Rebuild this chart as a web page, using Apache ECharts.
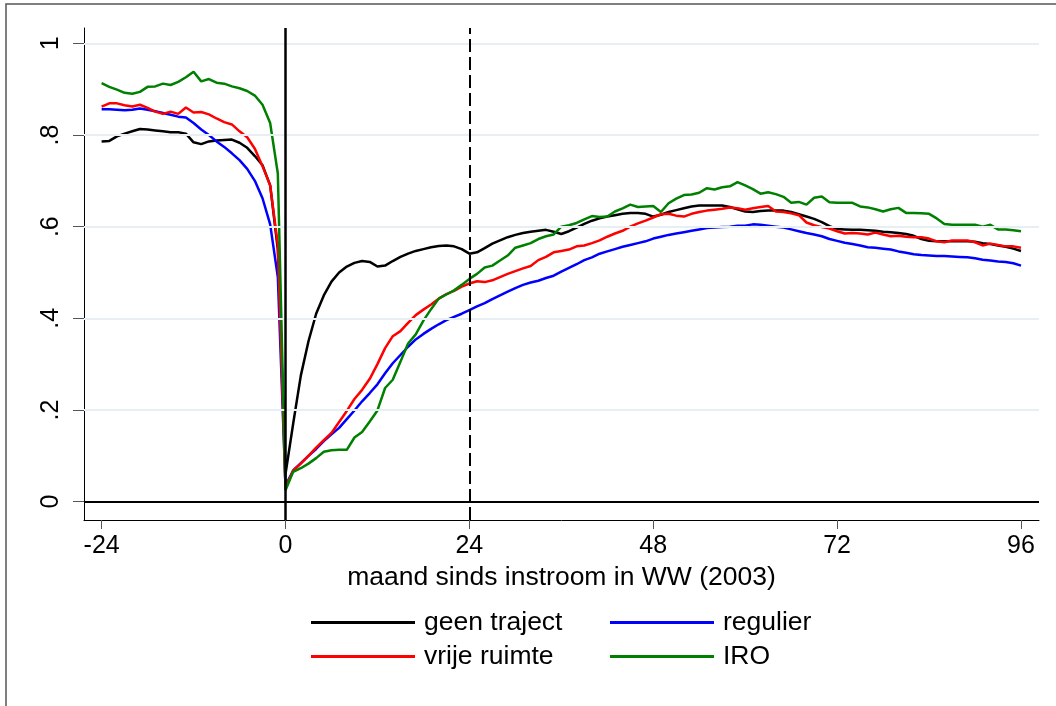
<!DOCTYPE html>
<html>
<head>
<meta charset="utf-8">
<script src="https://cdn.jsdelivr.net/npm/echarts@6/dist/echarts.min.js"></script>
<style>
  html, body { margin: 0; padding: 0; background: #fff; }
  #chart { width: 1056px; height: 706px; }
</style>
</head>
<body>
<div id="chart"></div>
<script>
// months -24 .. 96
const monthStart = -24
const monthEnd = 96

const xTicks = [-24, 0, 24, 48, 72, 96]
const yTicks = [0, 0.2, 0.4, 0.6, 0.8, 1]
const yTickLabels = ["0", ".2", ".4", ".6", ".8", "1"]

const seriesNames = ["geen traject", "regulier", "vrije ruimte", "IRO"]

const geenTraject = [
    0.786, 0.787, 0.797, 0.803, 0.808, 0.813, 0.812, 0.810, 0.808, 0.806, 0.806, 0.803,
    0.784, 0.780, 0.786, 0.788, 0.789, 0.790, 0.783, 0.772, 0.754, 0.734, 0.690, 0.550,
    0.060, 0.170, 0.275, 0.350, 0.410, 0.450, 0.480, 0.500, 0.513, 0.521, 0.525, 0.523,
    0.513, 0.515, 0.525, 0.534, 0.541, 0.547, 0.551, 0.555, 0.558, 0.559, 0.557, 0.551, 0.541,
    0.544, 0.553, 0.563, 0.570, 0.577, 0.582, 0.586, 0.589, 0.591, 0.593, 0.589, 0.584,
    0.590, 0.598, 0.606, 0.613, 0.618, 0.622, 0.625, 0.628, 0.630, 0.630, 0.628, 0.622,
    0.626, 0.632, 0.636, 0.640, 0.644, 0.646, 0.646, 0.646, 0.646, 0.643, 0.638, 0.633,
    0.632, 0.634, 0.635, 0.635, 0.635, 0.632, 0.627, 0.622, 0.617, 0.610, 0.601, 0.595,
    0.594, 0.593, 0.593, 0.592, 0.591, 0.589, 0.588, 0.586, 0.584, 0.580, 0.573, 0.569,
    0.568, 0.568, 0.568, 0.568, 0.568, 0.567, 0.564, 0.562, 0.559, 0.556, 0.552, 0.547
]

const regulier = [
    0.856, 0.856, 0.855, 0.854, 0.855, 0.858, 0.855, 0.852, 0.848, 0.844, 0.840, 0.838,
    0.826, 0.812, 0.800, 0.786, 0.774, 0.760, 0.745, 0.726, 0.700, 0.662, 0.605, 0.490,
    0.035, 0.068, 0.084, 0.100, 0.115, 0.132, 0.147, 0.161, 0.180, 0.199, 0.219, 0.237,
    0.256, 0.280, 0.302, 0.320, 0.338, 0.354, 0.366, 0.377, 0.387, 0.396, 0.403, 0.410, 0.418,
    0.426, 0.433, 0.442, 0.450, 0.458, 0.466, 0.473, 0.478, 0.482, 0.488, 0.493, 0.502,
    0.510, 0.518, 0.527, 0.533, 0.541, 0.546, 0.551, 0.556, 0.560, 0.564, 0.568, 0.574,
    0.578, 0.582, 0.585, 0.588, 0.591, 0.594, 0.597, 0.598, 0.599, 0.600, 0.602, 0.602,
    0.605, 0.604, 0.602, 0.600, 0.598, 0.594, 0.590, 0.586, 0.583, 0.579, 0.573, 0.569,
    0.565, 0.562, 0.559, 0.555, 0.554, 0.552, 0.550, 0.546, 0.543, 0.540, 0.538, 0.537,
    0.536, 0.536, 0.535, 0.534, 0.533, 0.531, 0.528, 0.526, 0.524, 0.523, 0.520, 0.515
]

const vrijeRuimte = [
    0.862, 0.869, 0.869, 0.865, 0.862, 0.866, 0.859, 0.851, 0.846, 0.851, 0.846, 0.860,
    0.849, 0.850, 0.845, 0.836, 0.828, 0.823, 0.808, 0.795, 0.770, 0.732, 0.690, 0.560,
    0.030, 0.068, 0.083, 0.100, 0.118, 0.134, 0.150, 0.174, 0.198, 0.224, 0.244, 0.268,
    0.300, 0.335, 0.361, 0.372, 0.390, 0.407, 0.419, 0.430, 0.443, 0.453, 0.460, 0.469, 0.476,
    0.481, 0.479, 0.483, 0.490, 0.497, 0.503, 0.509, 0.514, 0.527, 0.534, 0.544, 0.547,
    0.550, 0.557, 0.559, 0.564, 0.570, 0.578, 0.585, 0.591, 0.600, 0.607, 0.613, 0.620,
    0.627, 0.628, 0.624, 0.622, 0.628, 0.632, 0.635, 0.637, 0.639, 0.642, 0.640, 0.637,
    0.640, 0.643, 0.645, 0.633, 0.632, 0.629, 0.625, 0.609, 0.603, 0.599, 0.596, 0.590,
    0.585, 0.586, 0.585, 0.583, 0.587, 0.583, 0.579, 0.580, 0.578, 0.577, 0.577, 0.574,
    0.568, 0.566, 0.570, 0.570, 0.570, 0.566, 0.559, 0.563, 0.560, 0.557, 0.557, 0.554
]

const iro = [
    0.913, 0.905, 0.899, 0.892, 0.890, 0.894, 0.905, 0.906, 0.912, 0.909, 0.916, 0.926,
    0.938, 0.917, 0.922, 0.914, 0.912, 0.906, 0.902, 0.896, 0.886, 0.866, 0.826, 0.716,
    0.025, 0.065, 0.073, 0.083, 0.095, 0.109, 0.112, 0.113, 0.113, 0.140, 0.152, 0.175,
    0.199, 0.248, 0.266, 0.305, 0.345, 0.365, 0.395, 0.420, 0.443, 0.452, 0.461, 0.473, 0.486,
    0.497, 0.511, 0.515, 0.526, 0.537, 0.554, 0.559, 0.564, 0.573, 0.579, 0.583, 0.600,
    0.603, 0.608, 0.616, 0.623, 0.621, 0.622, 0.633, 0.640, 0.648, 0.643, 0.644, 0.645,
    0.632, 0.651, 0.661, 0.669, 0.670, 0.674, 0.684, 0.681, 0.686, 0.688, 0.697, 0.690,
    0.682, 0.672, 0.675, 0.671, 0.665, 0.652, 0.654, 0.648, 0.663, 0.666, 0.653, 0.652,
    0.652, 0.652, 0.644, 0.642, 0.638, 0.633, 0.638, 0.641, 0.630, 0.630, 0.629, 0.628,
    0.618, 0.606, 0.604, 0.604, 0.604, 0.604, 0.600, 0.604, 0.594, 0.594, 0.592, 0.590
]

const seriesColors = ["#000000", "#0000ff", "#ff0000", "#008000"]

const months = []
for (let m = monthStart; m <= monthEnd; m++) months.push(m)

function pairs(values) {
    return months.map((m, i) => [m, values[i]])
}

const chart = echarts.init(document.getElementById("chart"), null, { renderer: "canvas" })
const font = "Liberation Sans, Arial, sans-serif"
const legendText = {
    fontFamily: font,
    fontSize: 26.5,
    color: "#000",
    padding: [0, 0, 0, 4]
}

const option = {
    backgroundColor: "#fff",
    animation: false,
    graphic: [{
        type: "rect",
        shape: { x: 6, y: 4, width: 1200, height: 900 },
        style: { fill: "none", stroke: "#555", lineWidth: 1.5 },
        silent: true
    }],
    grid: {
        left: 84,
        right: 17,
        top: 28,
        bottom: 186
    },
    legend: [{
        data: ["geen traject", "vrije ruimte"],
        orient: "vertical",
        left: 306,
        top: 604,
        itemWidth: 104,
        itemHeight: 3,
        itemGap: 7,
        icon: "rect",
        textStyle: legendText
    }, {
        data: ["regulier", "IRO"],
        orient: "vertical",
        left: 605,
        top: 604,
        itemWidth: 104,
        itemHeight: 3,
        itemGap: 7,
        icon: "rect",
        textStyle: legendText
    }],
    xAxis: {
        type: "value",
        min: -26.3,
        max: 98.35,
        name: "maand sinds instroom in WW (2003)",
        nameLocation: "middle",
        nameGap: 38,
        nameTextStyle: { fontFamily: font, fontSize: 26.5, color: "#000" },
        axisLine: { onZero: false, lineStyle: { color: "#000", width: 1 } },
        axisTick: {
            show: true,
            length: 9,
            customValues: xTicks,
            lineStyle: { color: "#555", width: 1 }
        },
        axisLabel: {
            customValues: xTicks,
            margin: 14,
            fontFamily: font,
            fontSize: 25,
            color: "#000"
        },
        splitLine: { show: false }
    },
    yAxis: {
        type: "value",
        min: -0.040,
        max: 1.0334,
        axisLine: { show: true, onZero: false, lineStyle: { color: "#000", width: 1 } },
        axisTick: {
            show: true,
            length: 11,
            customValues: yTicks,
            lineStyle: { color: "#555", width: 1 }
        },
        axisLabel: {
            customValues: yTicks,
            rotate: 90,
            margin: 20,
            fontFamily: font,
            fontSize: 25,
            color: "#000",
            formatter: function (v) {
                const i = yTicks.findIndex(t => Math.abs(t - v) < 1e-6)
                return i >= 0 ? yTickLabels[i] : ""
            }
        },
        splitLine: { show: false }
    },
    series: [{
        type: "line",
        name: "_refs",
        data: [],
        z: 1,
        silent: true,
        markLine: {
            silent: true,
            symbol: "none",
            label: { show: false },
            animation: false,
            data: [
                { yAxis: 0.2, lineStyle: { color: "#e6eff2", width: 2, type: "solid" } },
                { yAxis: 0.4, lineStyle: { color: "#e6eff2", width: 2, type: "solid" } },
                { yAxis: 0.6, lineStyle: { color: "#e6eff2", width: 2, type: "solid" } },
                { yAxis: 0.8, lineStyle: { color: "#e6eff2", width: 2, type: "solid" } },
                { yAxis: 1, lineStyle: { color: "#e6eff2", width: 2, type: "solid" } },
                { yAxis: 0, lineStyle: { color: "#000", width: 2, type: "solid" } },
                { xAxis: 0, lineStyle: { color: "#000", width: 2.5, type: "solid" } },
                { xAxis: 24, lineStyle: { color: "#000", width: 2, type: [13, 5] } }
            ]
        }
    }].concat([geenTraject, regulier, vrijeRuimte, iro].map((values, i) => ({
        type: "line",
        name: seriesNames[i],
        data: pairs(values),
        showSymbol: false,
        symbol: "none",
        z: 3,
        color: seriesColors[i],
        lineStyle: { color: seriesColors[i], width: 2.5 }
    })))
}

chart.setOption(option)
</script>
</body>
</html>
